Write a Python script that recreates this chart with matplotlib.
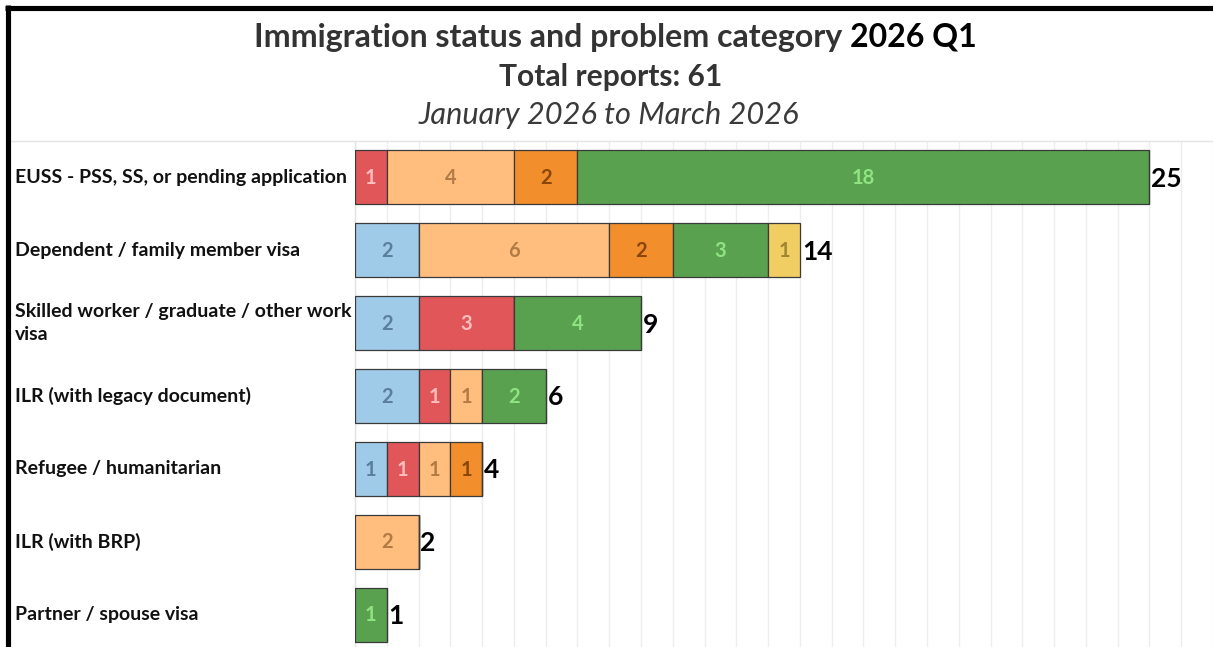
import matplotlib
matplotlib.use("Agg")
import matplotlib.pyplot as plt
from matplotlib.lines import Line2D

plt.rcParams['font.family'] = ['Lato', 'DejaVu Sans']

statuses = [
    "EUSS - PSS, SS, or pending application",
    "Dependent / family member visa",
    "Skilled worker / graduate / other work\nvisa",
    "ILR (with legacy document)",
    "Refugee / humanitarian",
    "ILR (with BRP)",
    "Partner / spouse visa",
]
# problem categories (series), in stacking order
cat_blue = [0, 2, 2, 2, 1, 0, 0]
cat_red = [1, 0, 3, 1, 1, 0, 0]
cat_lightorange = [4, 6, 0, 1, 1, 2, 0]
cat_orange = [2, 2, 0, 0, 1, 0, 0]
cat_green = [18, 3, 4, 2, 0, 0, 1]
cat_yellow = [0, 1, 0, 0, 0, 0, 0]

title_main = "Immigration status and problem category "
title_period = "2026 Q1"
subtitle = "Total reports: 61"
date_range = "January 2026 to March 2026"

series = [cat_blue, cat_red, cat_lightorange, cat_orange, cat_green, cat_yellow]
fills = ["#A0CBE8", "#E15759", "#FFBE7D", "#F28E2B", "#59A14F", "#F1CE63"]
text_cols = ["#5A7F9A", "#FFBDBD", "#B27B45", "#8A4608", "#8FE381", "#9D8532"]

W, H = 1213, 647
fig = plt.figure(figsize=(W / 100, H / 100), dpi=100)
renderer = fig.canvas.get_renderer()


def text_width(s, size, **kw):
    t = fig.text(0, 0, s, fontsize=size, **kw)
    w = t.get_window_extent(renderer).width
    t.remove()
    return w


def fit_size(s, target, **kw):
    base = 12.0
    return base * target / text_width(s, base, **kw)


ax_left = 355 / W
ax_top = 1 - 141 / H
ax_bottom = 1 - 651 / H
ax = fig.add_axes([ax_left, ax_bottom, 1 - ax_left, ax_top - ax_bottom])

n = len(statuses)
ys = list(range(n))
left = [0] * n
for vals, fc, tc in zip(series, fills, text_cols):
    ax.barh(ys, vals, left=left, height=0.74, color=fc,
            edgecolor="#3a3a3a", linewidth=0.9, zorder=3)
    for y, l, v in zip(ys, left, vals):
        if v > 0:
            ax.text(l + v / 2, y + 0.01, str(v), ha="center", va="center",
                    color=tc, fontsize=14.5, fontweight="bold", zorder=4)
    left = [a + b for a, b in zip(left, vals)]

totals = left
for y, t in zip(ys, totals):
    ax.text(t + 0.06, y + 0.02, str(t), ha="left", va="center", color="black",
            fontsize=19, fontweight="bold", zorder=4)

ax.set_xlim(0, 27)
ax.set_ylim(n - 0.5, -0.5)
ax.set_xticks(range(0, 28))
ax.set_yticks([])
ax.tick_params(axis="x", length=0, labelbottom=False)
ax.grid(axis="x", color="#ededed", linewidth=1, zorder=0)
for s in ["top", "right", "bottom"]:
    ax.spines[s].set_visible(False)
ax.spines["left"].set_color("#e2e2e2")
ax.spines["left"].set_linewidth(1)

# row labels
lab_size = fit_size(statuses[0], 337, fontweight="bold") * 0.975
for y, lab in zip(ys, statuses):
    fy = ax.transData.transform((0, y))[1]
    fig.text(15 / W, fy / H, lab, ha="left", va="center", fontsize=lab_size,
             fontweight="bold", color="#111111", linespacing=1.4)

# titles
ts = fit_size(title_main + title_period, 720, fontweight="bold")
w1 = text_width(title_main, ts, fontweight="bold")
w2 = text_width(title_period, ts, fontweight="bold")
x0 = 615 - (w1 + w2) / 2
fig.text(x0 / W, 1 - 37 / H, title_main, ha="left", va="center",
         fontsize=ts, fontweight="bold", color="#333333")
fig.text((x0 + w1) / W, 1 - 37 / H, title_period, ha="left", va="center",
         fontsize=ts, fontweight="bold", color="#000000")

ss = fit_size(subtitle, 222, fontweight="bold")
fig.text(611 / W, 1 - 77 / H, subtitle, ha="center", va="center",
         fontsize=ss, fontweight="bold", color="#333333")
ds = fit_size(date_range, 378, fontstyle="italic")
fig.text(609 / W, 1 - 115 / H, date_range, ha="center",
         va="center", fontsize=ds, fontstyle="italic", color="#3a3a3a")

# separator and frame
fig.add_artist(Line2D([10 / W, 1], [1 - 141 / H, 1 - 141 / H], color="#e4e4e4",
                      linewidth=1, transform=fig.transFigure))
fig.add_artist(Line2D([7.5 / W, 7.5 / W], [0, 1 - 5 / H], color="black",
                      linewidth=3.7, transform=fig.transFigure, solid_capstyle="butt"))
fig.add_artist(Line2D([5 / W, 1], [1 - 7.5 / H, 1 - 7.5 / H], color="black",
                      linewidth=3.7, transform=fig.transFigure, solid_capstyle="butt"))

fig.savefig("out.png", dpi=100)
